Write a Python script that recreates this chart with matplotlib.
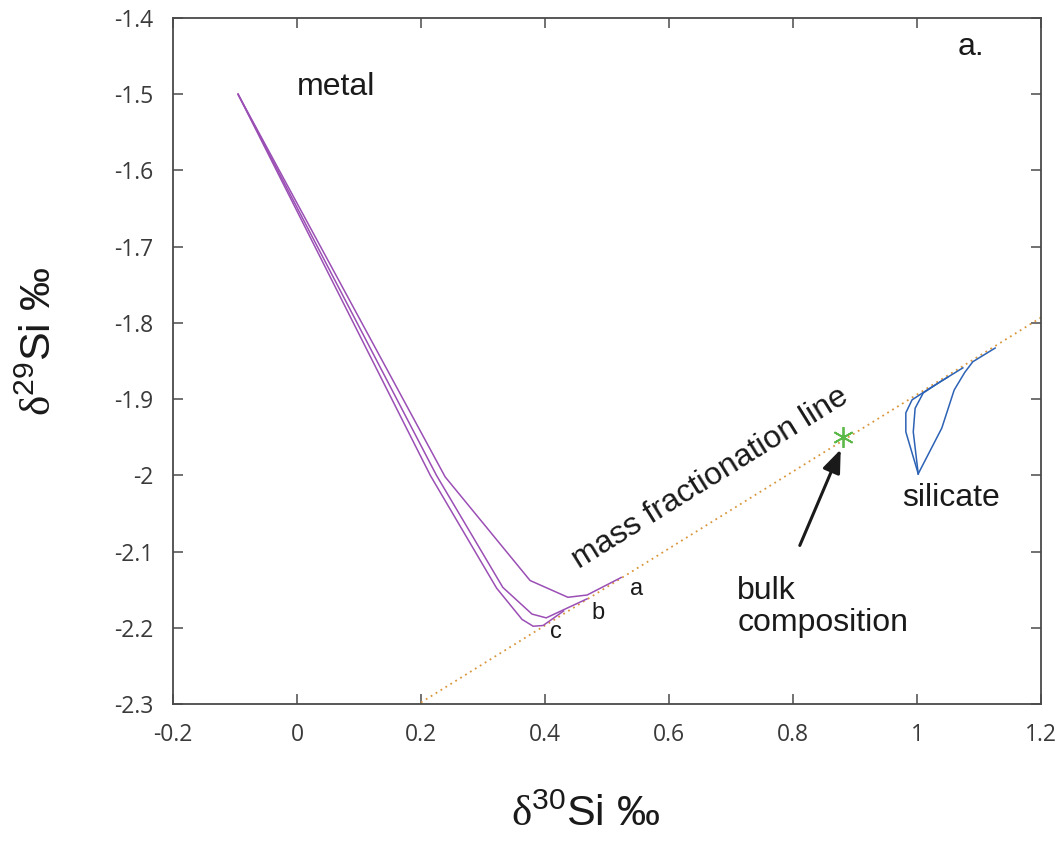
import numpy as np
import matplotlib
matplotlib.use("Agg")
import matplotlib.pyplot as plt

plt.rcParams['font.family'] = ['Liberation Sans', 'DejaVu Sans']
plt.rcParams['mathtext.fontset'] = 'custom'
plt.rcParams['mathtext.rm'] = 'Liberation Serif'
plt.rcParams['mathtext.sf'] = 'Liberation Sans'

# metal paths (d30Si, d29Si), three cases a, b, c
metal_a_x = [-0.095, 0.239, 0.376, 0.437, 0.468, 0.523]
metal_a_y = [-1.500, -2.002, -2.138, -2.160, -2.157, -2.134]
metal_b_x = [-0.095, 0.225, 0.332, 0.379, 0.402, 0.468]
metal_b_y = [-1.500, -2.000, -2.147, -2.182, -2.187, -2.162]
metal_c_x = [-0.095, 0.215, 0.322, 0.363, 0.381, 0.397, 0.430]
metal_c_y = [-1.500, -2.000, -2.148, -2.189, -2.198, -2.197, -2.178]

# silicate paths
sil_a_x = [1.002, 1.040, 1.060, 1.077, 1.090, 1.126]
sil_a_y = [-1.998, -1.938, -1.888, -1.865, -1.851, -1.833]
sil_b_x = [1.002, 0.994, 0.997, 1.010, 1.040, 1.074]
sil_b_y = [-1.998, -1.943, -1.912, -1.892, -1.876, -1.859]
sil_c_x = [1.002, 0.982, 0.982, 0.992, 1.020, 1.050]
sil_c_y = [-1.998, -1.943, -1.918, -1.901, -1.886, -1.871]

# mass fractionation line
mfl_x = [0.2, 1.2]
mfl_y = [-2.298, -1.793]

bulk_x, bulk_y = 0.881, -1.950

fig = plt.figure(figsize=(10.63, 8.42), dpi=100)
ax = fig.add_axes([0.1627, 0.1639, 0.9793 - 0.1627, 0.9786 - 0.1639])

purple = '#9b4fb5'
blue = '#2c62b5'
ax.plot(mfl_x, mfl_y, color='#d9963a', lw=1.3, ls=(0, (1, 2.2)))
for xs, ys in [(metal_a_x, metal_a_y), (metal_b_x, metal_b_y), (metal_c_x, metal_c_y)]:
    ax.plot(xs, ys, color=purple, lw=1.1)
for xs, ys in [(sil_a_x, sil_a_y), (sil_b_x, sil_b_y), (sil_c_x, sil_c_y)]:
    ax.plot(xs, ys, color=blue, lw=1.1)
ax.plot([bulk_x], [bulk_y], marker=(6, 2, 0), color='#5cb848', ms=15, mew=1.3)

ax.annotate('', xy=(0.877, -1.966), xytext=(0.811, -2.092),
            arrowprops=dict(arrowstyle='-|>,head_length=1.4,head_width=0.55',
                            color='#1a1a1a', lw=2.2, shrinkA=0, shrinkB=0))

fs = 23
ax.text(0.0, -1.49, 'metal', fontsize=fs, ha='left', va='center', color='#1a1a1a')
ax.text(1.055, -2.03, 'silicate', fontsize=fs, ha='center', va='center', color='#1a1a1a')
ax.text(1.066, -1.438, 'a.', fontsize=fs, ha='left', va='center', color='#1a1a1a')
ax.text(0.71, -2.173, 'bulk\ncomposition', fontsize=fs, ha='left', va='center',
        linespacing=1.1, color='#1a1a1a')
ax.text(0.667, -2.004, 'mass fractionation line', fontsize=fs, ha='center', va='center',
        rotation=31.8, rotation_mode='anchor', color='#1a1a1a')
ax.text(0.547, -2.149, 'a', fontsize=17, ha='center', va='center', color='#1a1a1a')
ax.text(0.486, -2.180, 'b', fontsize=17, ha='center', va='center', color='#1a1a1a')
ax.text(0.418, -2.206, 'c', fontsize=17, ha='center', va='center', color='#1a1a1a')

ax.set_xlim(-0.2, 1.2)
ax.set_ylim(-2.3, -1.4)
ax.set_xticks(np.arange(-0.2, 1.21, 0.2))
ax.set_xticklabels(['-0.2', '0', '0.2', '0.4', '0.6', '0.8', '1', '1.2'])
ax.set_yticks(np.arange(-2.3, -1.39, 0.1))
ax.set_yticklabels(['-2.3', '-2.2', '-2.1', '-2', '-1.9', '-1.8', '-1.7', '-1.6', '-1.5', '-1.4'])

axcol = '#4a4a4a'
for s in ax.spines.values():
    s.set_color(axcol)
    s.set_linewidth(1.3)
ax.tick_params(direction='in', length=7, width=1.1, color=axcol, labelcolor='#3a3a3a',
               labelsize=16.5, top=True, right=True)
ax.tick_params(axis='x', pad=14)
ax.tick_params(axis='y', pad=14)
for lab in ax.get_xticklabels() + ax.get_yticklabels():
    lab.set_family(['Open Sans', 'DejaVu Sans'])

ax.set_xlabel(r'$\mathrm{\delta}^{\mathsf{30}}$Si ‰', fontsize=31, color='#1a1a1a')
ax.set_ylabel(r'$\mathrm{\delta}^{\mathsf{29}}$Si ‰', fontsize=31, color='#1a1a1a')
ax.xaxis.label.set_va('center')
ax.yaxis.label.set_va('center')
ax.xaxis.set_label_coords(0.475, -0.162)
ax.yaxis.set_label_coords(-0.153, 0.528)

fig.savefig('out.png', dpi=100)
